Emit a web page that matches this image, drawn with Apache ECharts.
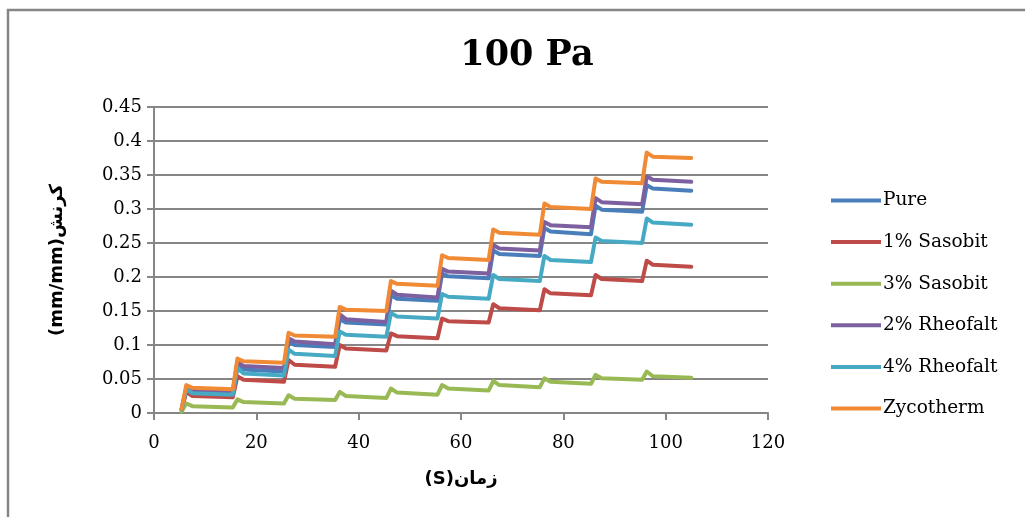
<!DOCTYPE html>
<html>
<head>
<meta charset="utf-8">
<script src="https://cdn.jsdelivr.net/npm/echarts@6/dist/echarts.min.js"></script>
<style>
html,body{margin:0;padding:0;background:#fff;}
#c{width:1025px;height:517px;}
</style>
</head>
<body>
<div id="c"></div>
<script>
// Time points (s): cycle start, peak, after quick recovery, ...
const times = [5.4,
  6.3, 7.5, 15.4,
  16.3, 17.5, 25.4,
  26.3, 27.5, 35.4,
  36.3, 37.5, 45.4,
  46.3, 47.5, 55.4,
  56.3, 57.5, 65.4,
  66.3, 67.5, 75.4,
  76.3, 77.5, 85.4,
  86.3, 87.5, 95.4,
  96.3, 97.5, 105];

const seriesNames = ['Pure', '1% Sasobit', '3% Sasobit', '2% Rheofalt', '4% Rheofalt', 'Zycotherm'];

const pure = [0.005,
  0.034, 0.031, 0.029,
  0.070, 0.064, 0.061,
  0.104, 0.100, 0.097,
  0.138, 0.133, 0.130,
  0.173, 0.168, 0.165,
  0.205, 0.201, 0.198,
  0.239, 0.234, 0.231,
  0.272, 0.267, 0.263,
  0.305, 0.299, 0.296,
  0.335, 0.330, 0.327];

const sasobit1 = [0.004,
  0.031, 0.025, 0.023,
  0.054, 0.049, 0.046,
  0.078, 0.071, 0.068,
  0.100, 0.095, 0.092,
  0.117, 0.113, 0.110,
  0.139, 0.135, 0.133,
  0.160, 0.154, 0.151,
  0.182, 0.176, 0.173,
  0.203, 0.197, 0.194,
  0.224, 0.218, 0.215];

const sasobit3 = [0.002,
  0.014, 0.010, 0.008,
  0.020, 0.016, 0.014,
  0.026, 0.021, 0.019,
  0.031, 0.025, 0.022,
  0.036, 0.030, 0.027,
  0.041, 0.036, 0.033,
  0.047, 0.041, 0.038,
  0.051, 0.046, 0.043,
  0.056, 0.051, 0.049,
  0.061, 0.054, 0.052];

const rheofalt2 = [0.006,
  0.037, 0.034, 0.032,
  0.075, 0.069, 0.066,
  0.110, 0.105, 0.101,
  0.145, 0.138, 0.134,
  0.180, 0.174, 0.170,
  0.212, 0.208, 0.205,
  0.247, 0.242, 0.239,
  0.281, 0.276, 0.273,
  0.316, 0.310, 0.307,
  0.348, 0.343, 0.340];

const rheofalt4 = [0.005,
  0.035, 0.029, 0.027,
  0.066, 0.058, 0.055,
  0.093, 0.087, 0.084,
  0.120, 0.115, 0.112,
  0.147, 0.142, 0.139,
  0.175, 0.171, 0.168,
  0.203, 0.197, 0.194,
  0.231, 0.225, 0.222,
  0.258, 0.253, 0.250,
  0.286, 0.280, 0.277];

const zycotherm = [0.006,
  0.041, 0.037, 0.035,
  0.080, 0.076, 0.074,
  0.118, 0.114, 0.112,
  0.156, 0.152, 0.150,
  0.194, 0.190, 0.187,
  0.232, 0.228, 0.225,
  0.270, 0.265, 0.262,
  0.308, 0.303, 0.300,
  0.345, 0.340, 0.338,
  0.383, 0.377, 0.375];

const allValues = [pure, sasobit1, sasobit3, rheofalt2, rheofalt4, zycotherm];
const colors = ['#4A7EBB', '#BE4B48', '#98B954', '#7D60A0', '#46AAC5', '#F08A35'];

const xTicks = [0, 20, 40, 60, 80, 100, 120];
const yTicks = [0, 0.05, 0.1, 0.15, 0.2, 0.25, 0.3, 0.35, 0.4, 0.45];

const chart = echarts.init(document.getElementById('c'), null, {renderer: 'canvas'});
const serif = "'DejaVu Serif', 'Liberation Serif', serif";

const option = {
  backgroundColor: '#ffffff',
  animation: false,
  title: {
    text: '100 Pa',
    left: 522, top: 33, textAlign: 'center',
    textStyle: {fontFamily: serif, fontWeight: 'bold', fontSize: 35, color: '#000'}
  },
  graphic: [{
    type: 'rect', silent: true,
    shape: {x: 8, y: 10, width: 1100, height: 600},
    style: {fill: 'none', stroke: '#868686', lineWidth: 2.5}
  }],
  legend: {
    orient: 'vertical',
    left: 826, top: 185,
    itemWidth: 50, itemHeight: 4, itemGap: 20.6,
    icon: 'rect',
    textStyle: {fontFamily: serif, fontSize: 18.5, color: '#000', lineHeight: 21, padding: [0,0,0,-3]},
    data: seriesNames
  },
  grid: {left: 154, right: 257, top: 107, bottom: 104, containLabel: false},
  xAxis: {
    type: 'value', min: 0, max: 120, interval: 20,
    name: '(S)زمان', nameLocation: 'middle', nameGap: 57,
    nameTextStyle: {fontFamily: "'DejaVu Sans', sans-serif", fontWeight: 'bold', fontSize: 18, color: '#000'},
    axisLine: {show: true, lineStyle: {color: '#868686', width: 2}},
    axisTick: {show: true, length: 7, lineStyle: {color: '#868686', width: 2}},
    axisLabel: {fontFamily: serif, fontSize: 18, color: '#000', margin: 21,
      formatter: v => xTicks.includes(v) ? String(v) : ''},
    splitLine: {show: false}
  },
  yAxis: {
    type: 'value', min: 0, max: 0.45, interval: 0.05,
    name: '(mm/mm)کرنش', nameLocation: 'middle', nameGap: 88, nameRotate: 90,
    nameTextStyle: {fontFamily: "'DejaVu Sans', sans-serif", fontWeight: 'bold', fontSize: 18, color: '#000'},
    axisLine: {show: true, lineStyle: {color: '#868686', width: 2}},
    axisTick: {show: true, length: 7, lineStyle: {color: '#868686', width: 2}},
    axisLabel: {fontFamily: serif, fontSize: 18, color: '#000', margin: 12,
      formatter: v => {
        const t = yTicks.find(y => Math.abs(y - v) < 1e-9);
        return t === undefined ? '' : String(+t.toFixed(2));
      }},
    splitLine: {show: true, lineStyle: {color: '#868686', width: 2}}
  },
  series: seriesNames.map((name, i) => ({
    name: name,
    type: 'line',
    data: times.map((t, k) => [t, allValues[i][k]]),
    showSymbol: false,
    symbol: 'none',
    color: colors[i],
    lineStyle: {width: 4, color: colors[i], join: 'round', cap: 'round'},
    smooth: false
  }))
};
chart.setOption(option);
</script>
</body>
</html>
